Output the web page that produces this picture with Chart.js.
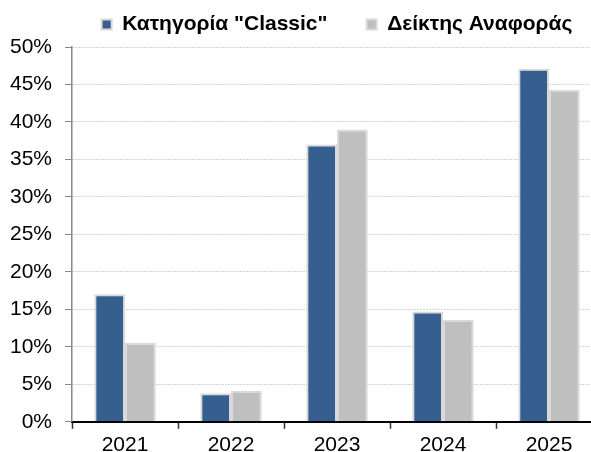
<!DOCTYPE html>
<html>
<head>
<meta charset="utf-8">
<script src="https://cdn.jsdelivr.net/npm/chart.js@4.4.0/dist/chart.umd.min.js"></script>
<style>
  html, body { margin: 0; padding: 0; background: #fff; overflow: hidden; }
  #wrap { width: 602px; height: 462px; }
</style>
</head>
<body>
<div id="wrap"><canvas id="chart"></canvas></div>
<script>
// Dados do gráfico
const years = ['2021', '2022', '2023', '2024', '2025'];
const classic = [17.0, 3.8, 37.0, 14.7, 47.1];
const benchmark = [10.5, 4.1, 39.0, 13.6, 44.3];
const seriesNames = ['Κατηγορία "Classic"', 'Δείκτης Αναφοράς'];

Chart.defaults.font.family = '"Liberation Sans", Arial, sans-serif';
Chart.defaults.color = '#000';

// Legenda: altura fixa e centrada sobre a área do gráfico
const legendSpacing = {
  id: 'legendSpacing',
  beforeInit(chart) {
    const fit = chart.legend.fit;
    chart.legend.fit = function () {
      fit.call(this);
      this.height = 43;
    };
  },
  afterLayout(chart) {
    chart.legend.left = chart.chartArea.left;
    chart.legend.right = chart.chartArea.right;
  }
};

const ctx = document.getElementById('chart').getContext('2d');
new Chart(ctx, {
  type: 'bar',
  data: {
    labels: years,
    datasets: [
      {
        label: seriesNames[0],
        data: classic,
        backgroundColor: '#365f8f',
        borderColor: '#d9d9d9',
        borderWidth: 2,
        borderSkipped: 'bottom'
      },
      {
        label: seriesNames[1],
        data: benchmark,
        backgroundColor: '#bfbfbf',
        borderColor: '#d9d9d9',
        borderWidth: 2,
        borderSkipped: 'bottom'
      }
    ]
  },
  plugins: [legendSpacing],
  options: {
    responsive: true,
    maintainAspectRatio: false,
    animation: false,
    layout: { padding: { left: -3, right: 0, top: 4, bottom: 0 } },
    datasets: { bar: { categoryPercentage: 0.58, barPercentage: 1 } },
    plugins: {
      legend: {
        position: 'top',
        labels: {
          boxWidth: 10,
          boxHeight: 10,
          padding: 10,
          font: { size: 21, weight: 'bold' },
          generateLabels: chart => Chart.defaults.plugins.legend.labels.generateLabels(chart)
            .map((l, i) => i === 0 ? Object.assign(l, { text: l.text + '     ' }) : l)
        }
      },
      tooltip: { enabled: false }
    },
    scales: {
      x: {
        grid: {
          drawOnChartArea: false,
          tickColor: '#333',
          tickLength: 7,
          tickWidth: 1.5
        },
        border: { color: '#000', width: 2 },
        ticks: { font: { size: 21 }, padding: 4 }
      },
      y: {
        min: 0,
        max: 50,
        ticks: {
          stepSize: 5,
          font: { size: 21 },
          padding: 13,
          callback: v => v + '%'
        },
        grid: {
          color: '#a8a8a8',
          tickColor: '#888',
          tickBorderDash: [],
          tickLength: 7,
          drawTicks: true
        },
        border: { color: '#888', width: 1.5, dash: [1, 2] }
      }
    }
  }
});
</script>
</body>
</html>
